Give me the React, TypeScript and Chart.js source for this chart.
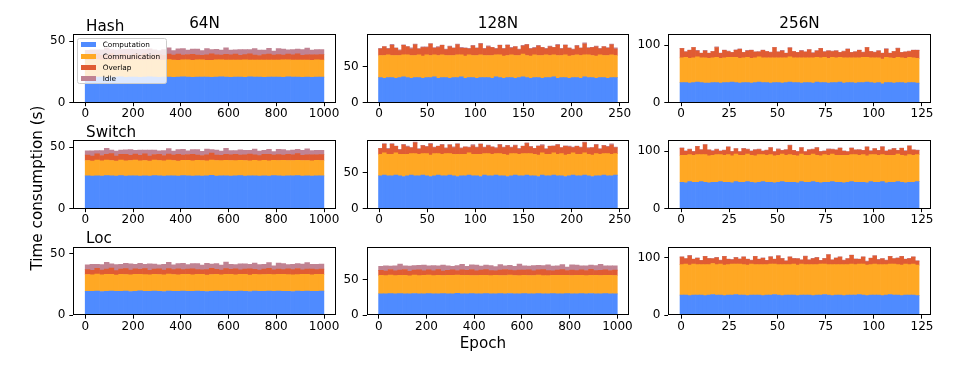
import React, { useEffect, useRef } from "react";
import { Chart, registerables } from "chart.js";
Chart.register(...registerables);

// ---------------- data ----------------
const seriesNames = ["Computation", "Communication", "Overlap", "Idle"];
const seriesColors = ["#4f8bff", "#ffa824", "#e05c33", "#c08393"];
const rowNames = ["Hash", "Switch", "Loc"];
const colNames = ["64N", "128N", "256N"];

const ticks1000 = [0, 200, 400, 600, 800, 1000];
const ticks250 = [0, 50, 100, 150, 200, 250];
const ticks125 = [0, 25, 50, 75, 100, 125];
const yTicks64 = [0, 50];
const yTicks128 = [0, 50];
const yTicks256 = [0, 100];
const yLimits = [56, 96, 119.5];

// each value below = one bar standing for a block of consecutive epochs
// 64N, Hash (1000 epochs, 20 per bar)
const hash64Comp = [20.8,20.7,20.9,20.8,20.6,20.9,20.8,21.0,20.7,20.8,20.9,20.7,20.8,21.1,20.8,20.6,20.8,20.9,20.7,20.8,21.0,20.8,20.7,20.9,20.8,20.8,20.6,20.9,21.1,20.8,20.7,20.9,20.8,20.7,21.0,20.8,20.9,20.6,20.8,20.9,20.8,20.7,21.0,20.8,20.9,20.7,20.8,20.6,20.9,20.8];
const hash64Comm = [14.0,13.8,14.2,13.9,14.1,14.0,13.7,14.1,13.9,14.0,14.2,13.9,14.0,13.8,14.1,14.0,13.9,14.2,14.0,13.8,14.0,14.1,13.9,14.0,14.2,13.8,14.0,14.1,13.9,14.0,14.1,13.9,14.0,14.2,13.8,14.0,13.9,14.1,14.0,13.9,14.0,14.2,13.9,14.0,13.8,14.1,14.0,13.9,14.1,14.0];
const hash64Overlap = [4.1,3.6,4.8,3.9,4.4,5.2,3.7,4.3,4.9,3.8,4.5,4.0,5.1,3.6,4.2,4.7,3.9,4.6,4.1,5.0,3.8,4.4,4.9,4.0,3.7,4.5,5.3,4.1,3.9,4.6,4.2,4.8,3.8,4.3,5.0,4.1,3.7,4.5,4.9,4.0,4.4,3.9,4.7,4.2,5.1,3.8,4.3,4.6,4.0,4.4];
const hash64Idle = [3.8,4.9,3.1,4.4,5.6,3.3,4.7,3.9,4.1,5.2,3.6,4.8,3.4,5.5,4.0,3.2,4.6,5.0,3.7,4.3,5.4,3.5,4.2,4.9,3.8,5.1,3.3,4.5,4.0,5.3,3.9,3.4,4.8,4.1,3.6,5.2,4.4,3.7,4.6,3.2,4.9,5.0,3.5,4.3,3.9,4.7,5.4,3.8,4.2,4.0];

// 64N, Switch (1000 epochs, 20 per bar)
const switch64Comp = [26.7,26.5,26.8,26.6,26.9,26.7,26.5,27.0,26.6,26.7,26.8,26.6,26.7,26.5,26.9,26.7,26.6,26.8,26.7,26.5,26.9,26.7,26.6,26.8,26.5,26.7,27.1,26.6,26.7,26.8,26.6,26.7,26.9,26.5,26.7,26.8,26.6,26.7,26.5,26.9,26.7,26.6,26.8,26.7,27.0,26.6,26.7,26.5,26.8,26.7];
const switch64Comm = [12.6,12.4,12.8,12.5,12.7,12.6,12.3,12.7,12.5,12.6,12.8,12.5,12.6,12.4,12.7,12.6,12.5,12.8,12.6,12.4,12.6,12.7,12.5,12.6,12.8,12.4,12.6,12.7,12.5,12.6,12.7,12.5,12.6,12.8,12.4,12.6,12.5,12.7,12.6,12.5,12.6,12.8,12.5,12.6,12.4,12.7,12.6,12.5,12.7,12.6];
const switch64Overlap = [4.5,4.0,5.2,4.3,4.8,5.6,4.1,4.7,5.3,4.2,4.9,4.4,5.5,4.0,4.6,5.1,4.3,5.0,4.5,5.4,4.2,4.8,5.3,4.4,4.1,4.9,5.7,4.5,4.3,5.0,4.6,5.2,4.2,4.7,5.4,4.5,4.1,4.9,5.3,4.4,4.8,4.3,5.1,4.6,5.5,4.2,4.7,5.0,4.4,4.8];
const switch64Idle = [3.4,4.3,2.6,3.9,4.8,2.8,4.1,3.3,3.6,4.6,3.0,4.2,2.9,4.9,3.5,2.7,4.0,4.4,3.2,3.8,4.7,3.0,3.7,4.3,3.3,4.5,2.8,3.9,3.5,4.8,3.4,2.9,4.2,3.6,3.1,4.6,3.8,3.2,4.0,2.7,4.3,4.5,3.0,3.8,3.4,4.1,4.8,3.3,3.7,3.5];

// 64N, Loc (1000 epochs, 20 per bar)
const loc64Comp = [19.5,19.4,19.6,19.3,19.5,19.7,19.4,19.5,19.6,19.3,19.5,19.8,19.4,19.5,19.6,19.5,19.3,19.6,19.5,19.4,19.7,19.5,19.4,19.6,19.5,19.3,19.5,19.6,19.4,19.7,19.5,19.4,19.6,19.5,19.3,19.6,19.5,19.4,19.7,19.5,19.6,19.4,19.5,19.3,19.6,19.5,19.7,19.4,19.5,19.6];
const loc64Comm = [13.7,13.5,13.9,13.6,13.8,13.7,13.4,13.8,13.6,13.7,13.9,13.6,13.7,13.5,13.8,13.7,13.6,13.9,13.7,13.5,13.7,13.8,13.6,13.7,13.9,13.5,13.7,13.8,13.6,13.7,13.8,13.6,13.7,13.9,13.5,13.7,13.6,13.8,13.7,13.6,13.7,13.9,13.6,13.7,13.5,13.8,13.7,13.6,13.8,13.7];
const loc64Overlap = [4.0,3.6,4.7,3.8,4.3,5.0,3.6,4.2,4.8,3.7,4.4,3.9,4.9,3.5,4.1,4.6,3.8,4.5,4.0,4.8,3.7,4.3,4.7,3.9,3.6,4.4,5.1,4.0,3.8,4.5,4.1,4.7,3.7,4.2,4.9,4.0,3.6,4.4,4.8,3.9,4.3,3.8,4.6,4.1,5.0,3.7,4.2,4.5,3.9,4.3];
const loc64Idle = [3.9,5.0,3.3,4.6,5.4,3.4,4.8,4.0,4.2,5.1,3.7,4.9,3.5,5.3,4.1,3.3,4.7,5.0,3.8,4.4,5.2,3.6,4.3,4.8,3.9,5.0,3.4,4.6,4.1,5.3,4.0,3.5,4.9,4.2,3.7,5.1,4.5,3.8,4.7,3.3,4.8,5.0,3.6,4.4,4.0,4.6,5.3,3.9,4.3,4.1];

// 128N, Hash (248 epochs, 4 per bar)
const hash128Comp = [35,34,35,35,34,35,36,35,34,35,35,34,35,35,36,34,35,35,34,35,35,36,34,35,35,34,35,35,35,34,36,35,34,35,35,34,35,36,35,34,35,35,34,35,35,36,34,35,35,34,35,35,34,36,35,35,34,35,35,34,35,35];
const hash128Comm = [31,32,32,31,32,31,31,32,32,31,32,31,32,31,31,32,32,31,32,31,32,31,31,32,31,32,32,31,31,32,31,32,31,31,32,32,31,32,31,31,32,31,32,32,31,31,32,31,32,31,31,32,32,31,32,31,31,32,31,32,32,31];
const hash128Overlap = [9,12,8,14,10,7,13,11,9,15,8,12,10,16,9,11,13,8,12,10,14,9,11,8,13,10,15,9,12,11,8,13,10,14,9,12,8,11,15,10,9,13,11,8,12,10,14,9,13,11,8,12,10,15,9,11,13,8,12,10,14,9];
const hash128Idle = [1,0.5,1,1.5,0.5,1,1,0.5,1.5,1,0.5,1,1,0.5,1,1.5,0.5,1,1,0.5,1,1.5,0.5,1,1,0.5,1,1,1.5,0.5,1,0.5,1,1,1.5,0.5,1,1,0.5,1,1.5,1,0.5,1,1,0.5,1.5,1,1,0.5,1,1,0.5,1.5,1,0.5,1,1,0.5,1,1,1.5];

// 128N, Switch (248 epochs, 4 per bar)
const switch128Comp = [46,47,46,46,47,46,45,46,47,46,46,47,46,45,46,47,46,46,47,46,45,46,46,47,46,46,45,47,46,46,47,46,46,45,46,47,46,46,47,46,46,45,47,46,46,47,46,46,45,46,47,46,46,47,46,45,46,46,47,46,46,47];
const switch128Comm = [30,31,30,30,31,30,31,30,30,31,30,30,31,30,31,30,30,31,30,30,31,30,30,31,30,30,31,30,31,30,30,31,30,30,31,30,30,31,30,31,30,30,31,30,30,31,30,31,30,30,31,30,30,31,30,30,31,30,30,31,30,30];
const switch128Overlap = [8,12,7,14,9,6,13,10,8,15,7,11,9,15,8,10,13,7,12,9,14,8,10,7,12,9,14,8,11,10,7,12,9,13,8,11,7,10,14,9,8,12,10,7,11,9,13,8,12,10,7,11,9,14,8,10,12,7,11,9,13,8];
const switch128Idle = [0.5,1,1.5,1,0.5,1,1,1.5,0.5,1,1,0.5,1,1.5,1,0.5,1,1,0.5,1.5,1,1,0.5,1,1.5,1,0.5,1,1,0.5,1.5,1,1,0.5,1,1,1.5,0.5,1,1,0.5,1,1.5,1,0.5,1,1,0.5,1,1.5,1,0.5,1,1,1.5,0.5,1,1,0.5,1,1.5,1];

// 128N, Loc (1000 epochs, 20 per bar)
const loc128Comp = [30.0,29.8,30.2,29.9,30.1,30.0,29.7,30.3,29.9,30.0,30.2,29.8,30.0,30.1,29.9,30.0,30.4,29.8,30.0,30.1,29.9,30.0,30.2,29.8,30.0,30.1,29.9,30.3,30.0,29.8,30.1,30.0,29.9,30.2,30.0,29.8,30.1,29.9,30.0,30.2,29.9,30.0,30.1,29.8,30.3,30.0,29.9,30.1,30.0,29.9];
const loc128Comm = [25.6,25.4,25.8,25.5,25.7,25.6,25.3,25.7,25.5,25.6,25.8,25.5,25.6,25.4,25.7,25.6,25.5,25.8,25.6,25.4,25.6,25.7,25.5,25.6,25.8,25.4,25.6,25.7,25.5,25.6,25.7,25.5,25.6,25.8,25.4,25.6,25.5,25.7,25.6,25.5,25.6,25.8,25.5,25.6,25.4,25.7,25.6,25.5,25.7,25.6];
const loc128Overlap = [7.0,6.3,7.9,6.6,7.4,8.2,6.4,7.2,8.0,6.5,7.5,6.8,8.1,6.2,7.1,7.8,6.6,7.7,7.0,8.3,6.5,7.4,8.0,6.8,6.3,7.6,8.4,7.0,6.7,7.8,7.2,8.0,6.5,7.3,8.2,7.0,6.4,7.6,8.1,6.8,7.4,6.6,7.9,7.1,8.3,6.5,7.3,7.7,6.8,7.4];
const loc128Idle = [5.8,7.6,4.9,6.9,8.2,5.1,7.2,6.0,6.4,7.9,5.5,7.4,5.2,8.4,6.2,4.8,7.0,7.7,5.7,6.6,8.0,5.4,6.5,7.3,5.9,7.8,5.0,6.8,6.1,8.1,6.0,5.3,7.5,6.3,5.6,7.9,6.7,5.7,7.1,4.9,7.4,7.7,5.4,6.6,6.0,7.0,8.2,5.8,6.4,6.2];

// 256N, Hash (124 epochs, 2 per bar)
const hash256Comp = [35,35,34,35,36,35,34,34,35,35,34,35,35,36,35,34,35,35,34,35,36,35,35,34,35,35,34,35,36,35,35,34,35,35,34,36,35,35,34,35,35,36,34,35,35,34,35,35,36,35,34,35,33,35,35,34,35,35,34,35,35,34];
const hash256Comm = [43,44,43,43,44,43,44,43,43,44,43,43,44,43,44,43,43,44,43,43,44,43,43,44,43,43,44,43,44,43,43,44,43,43,44,43,43,44,43,44,43,43,44,43,43,44,43,44,43,43,44,43,43,44,43,43,44,43,43,44,43,43];
const hash256Overlap = [16,9,14,18,10,8,12,9,11,17,9,13,10,8,12,16,9,11,14,10,8,13,11,9,18,10,12,8,15,11,9,12,10,14,8,11,16,9,13,10,12,8,11,15,9,10,13,8,17,11,9,12,10,14,8,12,15,9,11,10,13,14];
const hash256Idle = [0.5,1,0.5,0.5,1,0.5,1,0.5,0.5,1,0.5,0.5,1,0.5,1,0.5,0.5,1,0.5,0.5,1,0.5,0.5,1,0.5,0.5,1,0.5,1,0.5,0.5,1,0.5,0.5,1,0.5,0.5,1,0.5,1,0.5,0.5,1,0.5,0.5,1,0.5,1,0.5,0.5,1,0.5,0.5,1,0.5,0.5,1,0.5,0.5,1,0.5,0.5];

// 256N, Switch (124 epochs, 2 per bar)
const switch256Comp = [46,45,47,46,46,47,46,45,46,46,47,46,46,45,47,46,46,47,46,45,46,47,46,46,45,46,47,46,46,46,45,47,46,46,47,46,45,46,46,47,46,46,45,46,47,46,46,46,45,47,46,46,47,45,46,46,47,46,45,46,46,47];
const switch256Comm = [47,48,47,47,48,47,48,47,47,48,47,47,48,47,48,47,47,48,47,47,48,47,47,48,47,47,48,47,48,47,47,48,47,47,48,47,47,48,47,48,47,47,48,47,47,48,47,48,47,47,48,47,47,48,47,47,48,47,47,48,47,47];
const switch256Overlap = [12,7,9,6,14,8,17,10,7,9,6,8,13,7,9,6,11,8,7,10,9,6,8,12,7,10,6,9,16,8,7,11,6,9,8,13,7,6,10,8,9,12,7,6,11,8,9,7,15,6,10,8,13,7,9,11,6,12,8,15,9,7];
const switch256Idle = [1,0.5,0.5,1,0.5,1,0.5,0.5,1,0.5,0.5,1,0.5,1,0.5,0.5,1,0.5,0.5,1,0.5,0.5,1,0.5,0.5,1,0.5,1,0.5,0.5,1,0.5,0.5,1,0.5,0.5,1,0.5,1,0.5,0.5,1,0.5,0.5,1,0.5,1,0.5,0.5,1,0.5,0.5,1,0.5,0.5,1,0.5,0.5,1,0.5,0.5,1];

// 256N, Loc (124 epochs, 2 per bar)
const loc256Comp = [35,35,34,35,35,35,34,35,36,35,35,34,35,35,36,35,35,34,35,35,35,34,35,35,36,35,34,35,35,35,34,35,35,35,34,35,35,36,35,34,35,35,34,35,35,35,36,35,34,35,35,35,34,35,36,35,35,34,35,35,35,34];
const loc256Comm = [53,54,53,54,53,53,54,53,54,53,54,53,53,54,53,54,53,53,54,53,53,54,53,54,53,53,54,53,53,54,53,54,53,53,54,53,54,53,53,54,53,53,54,53,54,53,53,54,53,53,54,53,54,53,53,54,53,53,54,53,54,53];
const loc256Overlap = [13,9,16,8,11,7,14,10,8,12,6,15,9,7,11,8,13,10,6,14,9,11,7,12,8,15,10,6,13,9,11,7,14,8,10,12,6,9,17,8,11,13,7,10,15,9,8,12,6,11,14,8,10,7,13,9,11,15,8,10,12,7];
const loc256Idle = [0.5,0.5,1,0.5,1,0.5,0.5,1,0.5,0.5,1,0.5,0.5,1,0.5,1,0.5,0.5,1,0.5,0.5,1,0.5,1,0.5,0.5,1,0.5,0.5,1,0.5,0.5,1,0.5,1,0.5,0.5,1,0.5,0.5,1,0.5,1,0.5,0.5,1,0.5,0.5,1,0.5,0.5,1,0.5,1,0.5,0.5,1,0.5,0.5,1,0.5,0.5];

// ---------------- layout ----------------
const FIG_W = 966;
const FIG_H = 368;
const COL_LEFT = [73.3, 366.7, 668.3];
const ROW_TOP = [34, 140, 246.5];
const PLOT_W = 262.5;
const PLOT_H = 68.7;
const Y_AXIS_W = 50;
const X_AXIS_H = 30;
const FONT = "'DejaVu Sans', 'Liberation Sans', sans-serif";

type PanelDef = {
  row: number;
  col: number;
  epochs: number;
  per: number;
  series: number[][];
  xTicks: number[];
  yTicks: number[];
};

const panels: PanelDef[] = [
  { row: 0, col: 0, epochs: 1000, per: 20, series: [hash64Comp, hash64Comm, hash64Overlap, hash64Idle], xTicks: ticks1000, yTicks: yTicks64 },
  { row: 0, col: 1, epochs: 248, per: 4, series: [hash128Comp, hash128Comm, hash128Overlap, hash128Idle], xTicks: ticks250, yTicks: yTicks128 },
  { row: 0, col: 2, epochs: 124, per: 2, series: [hash256Comp, hash256Comm, hash256Overlap, hash256Idle], xTicks: ticks125, yTicks: yTicks256 },
  { row: 1, col: 0, epochs: 1000, per: 20, series: [switch64Comp, switch64Comm, switch64Overlap, switch64Idle], xTicks: ticks1000, yTicks: yTicks64 },
  { row: 1, col: 1, epochs: 248, per: 4, series: [switch128Comp, switch128Comm, switch128Overlap, switch128Idle], xTicks: ticks250, yTicks: yTicks128 },
  { row: 1, col: 2, epochs: 124, per: 2, series: [switch256Comp, switch256Comm, switch256Overlap, switch256Idle], xTicks: ticks125, yTicks: yTicks256 },
  { row: 2, col: 0, epochs: 1000, per: 20, series: [loc64Comp, loc64Comm, loc64Overlap, loc64Idle], xTicks: ticks1000, yTicks: yTicks64 },
  { row: 2, col: 1, epochs: 1000, per: 20, series: [loc128Comp, loc128Comm, loc128Overlap, loc128Idle], xTicks: ticks1000, yTicks: yTicks128 },
  { row: 2, col: 2, epochs: 124, per: 2, series: [loc256Comp, loc256Comm, loc256Overlap, loc256Idle], xTicks: ticks125, yTicks: yTicks256 },
];

const framePlugin = {
  id: "frame",
  afterDatasetsDraw(chart: any) {
    const { ctx, chartArea: a } = chart;
    ctx.save();
    ctx.strokeStyle = "#000";
    ctx.lineWidth = 1;
    const l = Math.round(a.left) + 0.5;
    const t = Math.round(a.top) + 0.5;
    const r = Math.round(a.right) - 0.5;
    const b = Math.round(a.bottom) - 0.5;
    ctx.strokeRect(l, t, r - l, b - t);
    ctx.restore();
  },
};

function Panel({ p }: { p: PanelDef }) {
  const ref = useRef<HTMLCanvasElement | null>(null);
  useEffect(() => {
    const canvas = ref.current;
    if (!canvas) return;
    const left = COL_LEFT[p.col];
    const top = ROW_TOP[p.row];
    const span = p.epochs - 0.2;
    const xMin = -0.4 - 0.05 * span;
    const xMax = p.epochs - 1 + 0.4 + 0.05 * span;
    const tickFont = { family: FONT, size: 12 };
    const chart = new Chart(canvas, {
      type: "bar",
      data: {
        datasets: p.series.map((vals, k) => ({
          label: seriesNames[k],
          data: vals.map((v, i) => ({ x: i * p.per + (p.per - 1) / 2, y: v })),
          backgroundColor: seriesColors[k],
          borderWidth: 0,
          barPercentage: 1,
          categoryPercentage: 1,
        })),
      } as any,
      options: {
        animation: false,
        responsive: false,
        maintainAspectRatio: false,
        events: [],
        layout: {
          padding: {
            left: left - Y_AXIS_W,
            top: top,
            right: FIG_W - left - PLOT_W,
            bottom: FIG_H - top - PLOT_H - X_AXIS_H,
          },
        },
        plugins: { legend: { display: false }, tooltip: { enabled: false }, title: { display: false } },
        scales: {
          x: {
            type: "linear",
            stacked: true,
            offset: false,
            min: xMin,
            max: xMax,
            afterBuildTicks: (s: any) => {
              s.ticks = p.xTicks.map((v) => ({ value: v }));
            },
            afterFit: (s: any) => {
              s.height = X_AXIS_H;
              s.paddingLeft = 0;
              s.paddingRight = 0;
            },
            grid: { display: true, drawOnChartArea: false, drawTicks: true, tickLength: 3.5, color: "#000", lineWidth: 1, offset: false },
            border: { display: false },
            ticks: { font: tickFont, color: "#000", padding: 0.5, maxRotation: 0, autoSkip: false, callback: (v: any) => String(v) },
          },
          y: {
            type: "linear",
            stacked: true,
            min: 0,
            max: yLimits[p.col],
            afterBuildTicks: (s: any) => {
              s.ticks = p.yTicks.map((v) => ({ value: v }));
            },
            afterFit: (s: any) => {
              s.width = Y_AXIS_W;
              s.paddingTop = 0;
              s.paddingBottom = 0;
            },
            grid: { display: true, drawOnChartArea: false, drawTicks: true, tickLength: 4, color: "#000", lineWidth: 1 },
            border: { display: false },
            ticks: { font: tickFont, color: "#000", padding: 4, callback: (v: any) => String(v) },
          },
        },
      } as any,
      plugins: [framePlugin],
    });
    return () => chart.destroy();
  }, [p]);
  return (
    <canvas
      ref={ref}
      width={FIG_W}
      height={FIG_H}
      style={{ position: "absolute", left: 0, top: 0, width: FIG_W, height: FIG_H }}
    />
  );
}

const LABEL_FS = 15.2;
const BASE = 0.846; // baseline offset (em) with line-height 1 for DejaVu Sans

function Text({ x, y, children, center }: { x: number; y: number; children: any; center?: boolean }) {
  return (
    <div
      style={{
        position: "absolute",
        left: x,
        top: y - BASE * LABEL_FS,
        fontFamily: FONT,
        fontSize: LABEL_FS,
        lineHeight: `${LABEL_FS}px`,
        whiteSpace: "nowrap",
        color: "#000",
        transform: center ? "translateX(-50%)" : undefined,
      }}
    >
      {children}
    </div>
  );
}

const LEG_FS = 7.3;
const legendRowCenters = [44.7, 56.1, 67.5, 78.9];

function Legend() {
  return (
    <div>
      <div
        style={{
          position: "absolute",
          left: 76.5,
          top: 38.3,
          width: 90.6,
          height: 45.7,
          boxSizing: "border-box",
          background: "rgba(255,255,255,0.8)",
          border: "1px solid #cccccc",
          borderRadius: 2.5,
        }}
      />
      {seriesNames.map((name, i) => (
        <React.Fragment key={name}>
          <div
            style={{
              position: "absolute",
              left: 80.7,
              top: legendRowCenters[i] - 2.6,
              width: 15,
              height: 5.2,
              background: seriesColors[i],
            }}
          />
          <div
            style={{
              position: "absolute",
              left: 102.7,
              top: legendRowCenters[i] - 3.52,
              fontFamily: FONT,
              fontSize: LEG_FS,
              lineHeight: `${LEG_FS}px`,
              whiteSpace: "nowrap",
              color: "#000",
            }}
          >
            {name}
          </div>
        </React.Fragment>
      ))}
    </div>
  );
}

export default function App() {
  return (
    <div
      style={{
        position: "absolute",
        left: 0,
        top: 0,
        width: FIG_W,
        height: FIG_H,
        background: "#fff",
        overflow: "hidden",
      }}
    >
      {panels.map((p, i) => (
        <Panel key={i} p={p} />
      ))}
      {colNames.map((c, i) => (
        <Text key={c} x={COL_LEFT[i] + PLOT_W / 2} y={29.3} center>
          {c}
        </Text>
      ))}
      {rowNames.map((r, i) => (
        <Text key={r} x={86} y={ROW_TOP[i] - 2.2}>
          {r}
        </Text>
      ))}
      <Text x={FIG_W / 2} y={349} center>
        Epoch
      </Text>
      <div
        style={{
          position: "absolute",
          left: 37.7,
          top: 187.5,
          fontFamily: FONT,
          fontSize: LABEL_FS,
          lineHeight: `${LABEL_FS}px`,
          whiteSpace: "nowrap",
          color: "#000",
          transform: "translate(-50%, -50%) rotate(-90deg)",
        }}
      >
        Time consumption (s)
      </div>
      <Legend />
    </div>
  );
}
